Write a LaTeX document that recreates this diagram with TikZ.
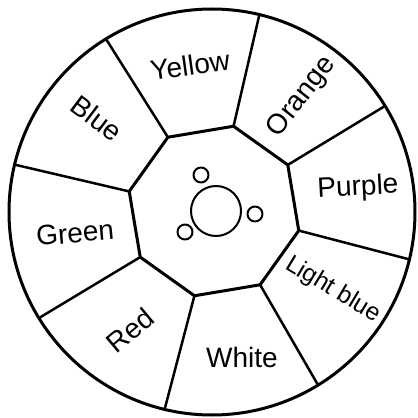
\documentclass[tikz,border=0pt]{standalone}
\usepackage{fontspec}
\setmainfont{Liberation Sans}
\begin{document}
\begin{tikzpicture}[x=1pt,y=1pt,line join=round,
  rim/.style={line width=3pt},
  octline/.style={line width=3pt},
  spoke/.style={line width=2.5pt},
  hole/.style={line width=2pt},
  lab/.style={font=\fontsize{28}{28}\selectfont, inner sep=0pt},
  smalllab/.style={font=\fontsize{24.5}{24.5}\selectfont, inner sep=0pt}]
\useasboundingbox (-212,-206) rectangle (206,212);
\coordinate (C) at (0,0);
\coordinate (O) at (2,1);
\foreach \i in {0,...,7} {
  \path (O) ++({122-45*\i}:87pt) coordinate (v\i);
  \path (C) ++({121.5-45*\i}:203pt) coordinate (r\i);
}
\draw[octline] (v0) -- (v1) -- (v2) -- (v3) -- (v4) -- (v5) -- (v6) -- (v7) -- cycle;
\foreach \i in {0,...,7} { \draw[spoke] (v\i) -- (r\i); }
\draw[rim] (C) circle (203pt);
% center holes
\draw[hole] (4,1) circle (25pt);
\draw[hole] (-11,37) circle (7.5pt);
\draw[hole] (43,-2) circle (7.5pt);
\draw[hole] (-27,-20) circle (7.5pt);
% labels
\node[lab, rotate=8] (yellow) at (-22,147) {Yellow};
\node[lab, rotate=52] (orange) at (90,115) {Orange};
\node[lab, rotate=3] (purple) at (146,24) {Purple};
\node[smalllab, rotate=-31] (lightblue) at (121,-78) {Light blue};
\node[lab] (white) at (30,-145) {White};
\node[lab, rotate=40] (red) at (-82,-118) {Red};
\node[lab, rotate=5] (green) at (-137,-21) {Green};
\node[lab, rotate=-37] (blue) at (-115,94) {Blue};
\end{tikzpicture}
\end{document}
